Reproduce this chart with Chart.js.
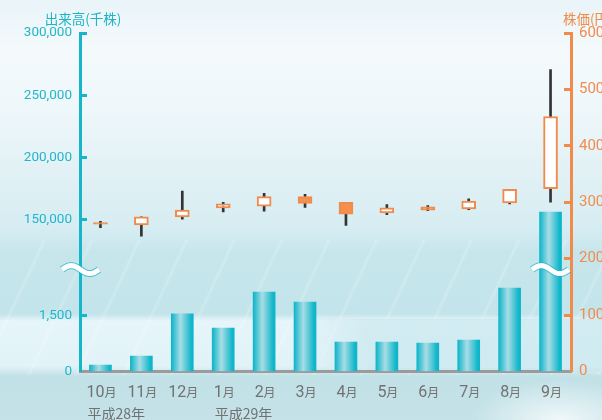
<!DOCTYPE html>
<html>
<head>
<meta charset="utf-8">
<script src="https://cdn.jsdelivr.net/npm/chart.js@4.4.1/dist/chart.umd.min.js"></script>
<style>
  html, body { margin: 0; padding: 0; width: 602px; height: 420px; overflow: hidden; }
  body {
    background:
      radial-gradient(ellipse 90px 40px at 560px 420px, rgba(255,255,255,0.75), rgba(255,255,255,0)),
      linear-gradient(90deg, rgba(255,255,255,0) 0, rgba(255,255,255,0) 300px, rgba(196,229,236,0.6) 370px, rgba(196,229,236,0.6) 602px) 0 319px / 602px 53px no-repeat,
      repeating-linear-gradient(115deg, rgba(255,255,255,0) 0, rgba(255,255,255,0) 38px, rgba(255,255,255,0.2) 40px, rgba(255,255,255,0) 43px) 0 240px / 602px 135px no-repeat,
      linear-gradient(180deg, #e9f4f8 0, #f4fafc 50px, #eef7fa 110px, #e2f1f5 170px, #d6edf2 228px, #c6e6ec 252px, #c3e4ea 314px, #e5f5fa 321px, #e2f3f8 366px, #c2e1e7 376px, #c4e2e8 420px);
  }
  #wrap { position: absolute; left: 0; top: 0; width: 640px; height: 420px; }
</style>
</head>
<body>
<div id="wrap"><canvas id="chart" width="640" height="420"></canvas></div>
<script>
// 平成28年10月 〜 平成29年9月
const months = ['10', '11', '12', '1', '2', '3', '4', '5', '6', '7', '8', '9'];
const years = ['平成28年', '', '', '平成29年', '', '', '', '', '', '', '', ''];

// 出来高(千株)
const volume = [175, 417, 1554, 1169, 2137, 1868, 793, 793, 766, 847, 2245, 156100];

// 株価(円)
const priceOpen  = [264, 260, 274, 290, 293, 310, 300, 281, 292, 288, 299, 324];
const priceClose = [261, 274, 286, 297, 310, 298, 279, 290, 286, 302, 323, 452];
const priceHigh  = [266, 274, 320, 300, 316, 314, 300, 296, 294, 306, 323, 535];
const priceLow   = [255, 240, 270, 283, 284, 291, 259, 278, 285, 287, 297, 300];

const volumeTicks = [0, 1500, 150000, 200000, 250000, 300000];
const priceTicks = [0, 100, 200, 300, 400, 500, 600];

const CYAN = '#17b5ca';
const ORANGE = '#f18b4c';

// 省略線つきの出来高軸: 下段 0〜1,500、上段 150,000〜300,000
function volPos(v) {
  if (v <= 3000) return v / 1500 * 55.8;
  return 151.9 + (v - 150000) / 50000 * 62.3;
}
const VOL_MAX = volPos(300000);
const BREAK_POS = 102;

function barFill(ctx) {
  const chart = ctx.chart;
  const xs = chart.scales.x;
  if (!xs || !chart.chartArea) return '#1bbccf';
  const cx = xs.getPixelForValue(ctx.dataIndex);
  const g = chart.ctx.createLinearGradient(cx - 11, 0, cx + 11, 0);
  g.addColorStop(0, '#0db5ca');
  g.addColorStop(0.42, '#a8dde5');
  g.addColorStop(0.9, '#12b7cb');
  g.addColorStop(1, '#0db4c9');
  return g;
}

const decorations = {
  id: 'decorations',
  afterDatasetsDraw(chart) {
    const c = chart.ctx;
    const area = chart.chartArea;
    const yb = chart.scales.y.getPixelForValue(BREAK_POS);

    function wave(x0, x1) {
      c.save();
      c.beginPath();
      for (let i = 0; i <= 40; i++) {
        const t = i / 40;
        const x = x0 + (x1 - x0) * t;
        const y = yb - 4 * Math.sin(Math.PI * 2 * t);
        if (i === 0) c.moveTo(x, y); else c.lineTo(x, y);
      }
      c.lineCap = 'butt';
      c.lineJoin = 'round';
      c.strokeStyle = 'rgba(40,180,200,0.75)';
      c.lineWidth = 7;
      c.stroke();
      c.strokeStyle = '#ffffff';
      c.lineWidth = 5;
      c.stroke();
      c.restore();
    }
    wave(area.left - 18, area.left + 19);
    wave(area.right - 39, area.right - 2);
  },
  afterDraw(chart) {
    const c = chart.ctx;
    const xs = chart.scales.x;
    const area = chart.chartArea;
    c.save();
    c.textBaseline = 'alphabetic';
    // month labels
    for (let i = 0; i < months.length; i++) {
      const cx = xs.getPixelForValue(i);
      c.font = '16px Roboto';
      const wn = c.measureText(months[i]).width;
      c.font = '12px "Noto Sans CJK JP"';
      const wm = c.measureText('月').width;
      const left = cx - (wn + wm) / 2 + 1;
      c.fillStyle = '#717171';
      c.textAlign = 'left';
      c.font = '16px Roboto';
      c.fillText(months[i], left, 396.5);
      c.font = '12px "Noto Sans CJK JP"';
      c.fillText('月', left + wn, 396.5);
      if (years[i]) {
        c.font = '14px "Noto Sans CJK JP"';
        c.fillText(years[i], left + 1, 419);
      }
    }
    // axis titles
    c.font = '13.5px "Noto Sans CJK JP"';
    c.fillStyle = '#1eb4c8';
    c.textAlign = 'center';
    c.fillText('出来高(千株)', area.left + 3, 23.5);
    c.fillStyle = ORANGE;
    c.textAlign = 'left';
    c.fillText('株価(円)', area.right - 8, 23.5);
    c.restore();
  }
};

new Chart(document.getElementById('chart'), {
  type: 'bar',
  data: {
    labels: months.map(m => m + '月'),
    datasets: [
      {
        label: '株価',
        yAxisID: 'y1',
        data: priceOpen.map((o, i) => [o, priceClose[i]]),
        backgroundColor: priceOpen.map((o, i) => priceClose[i] >= o ? '#ffffff' : '#f5914d'),
        borderColor: ORANGE,
        borderWidth: 2,
        borderSkipped: false,
        barThickness: 14,
        grouped: false,
        order: 1
      },
      {
        label: '高値安値',
        yAxisID: 'y1',
        data: priceLow.map((l, i) => [l, priceHigh[i]]),
        backgroundColor: '#333333',
        borderWidth: 0,
        barThickness: 2,
        grouped: false,
        order: 2
      },
      {
        label: '出来高',
        yAxisID: 'y',
        data: volume.map(volPos),
        backgroundColor: barFill,
        borderWidth: 0,
        barThickness: 22,
        grouped: false,
        order: 3
      }
    ]
  },
  options: {
    responsive: false,
    animation: false,
    layout: { padding: { top: 33 } },
    plugins: { legend: { display: false }, tooltip: { enabled: false } },
    scales: {
      x: {
        afterFit: s => { s.height = 48.5; },
        border: { color: '#9b9b9b', width: 3 },
        grid: { drawOnChartArea: false, drawTicks: false },
        ticks: { display: false }
      },
      y: {
        position: 'left',
        min: 0,
        max: VOL_MAX,
        afterFit: s => { s.width = 80; },
        afterBuildTicks: s => { s.ticks = volumeTicks.map(v => ({ value: volPos(v) })); },
        border: { color: CYAN, width: 3 },
        grid: {
          drawOnChartArea: false,
          tickLength: -7,
          tickWidth: 3,
          tickColor: ctx => ctx.index === 0 ? 'rgba(0,0,0,0)' : CYAN
        },
        ticks: {
          color: '#22b6ca',
          padding: 15,
          font: { family: 'Roboto', size: 13.5 },
          callback: (v, i) => volumeTicks[i].toLocaleString('en-US')
        }
      },
      y1: {
        position: 'right',
        min: 0,
        max: 600,
        afterFit: s => { s.width = 69; },
        afterBuildTicks: s => { s.ticks = priceTicks.map(v => ({ value: v })); },
        border: { color: ORANGE, width: 3 },
        grid: {
          drawOnChartArea: false,
          tickLength: -7,
          tickWidth: 3,
          tickColor: ctx => ctx.index === 0 ? 'rgba(0,0,0,0)' : ORANGE
        },
        ticks: {
          color: '#f28c50',
          padding: 15,
          font: { family: 'Roboto', size: 15 },
          callback: v => String(v)
        }
      }
    }
  },
  plugins: [decorations]
});
</script>
</body>
</html>
